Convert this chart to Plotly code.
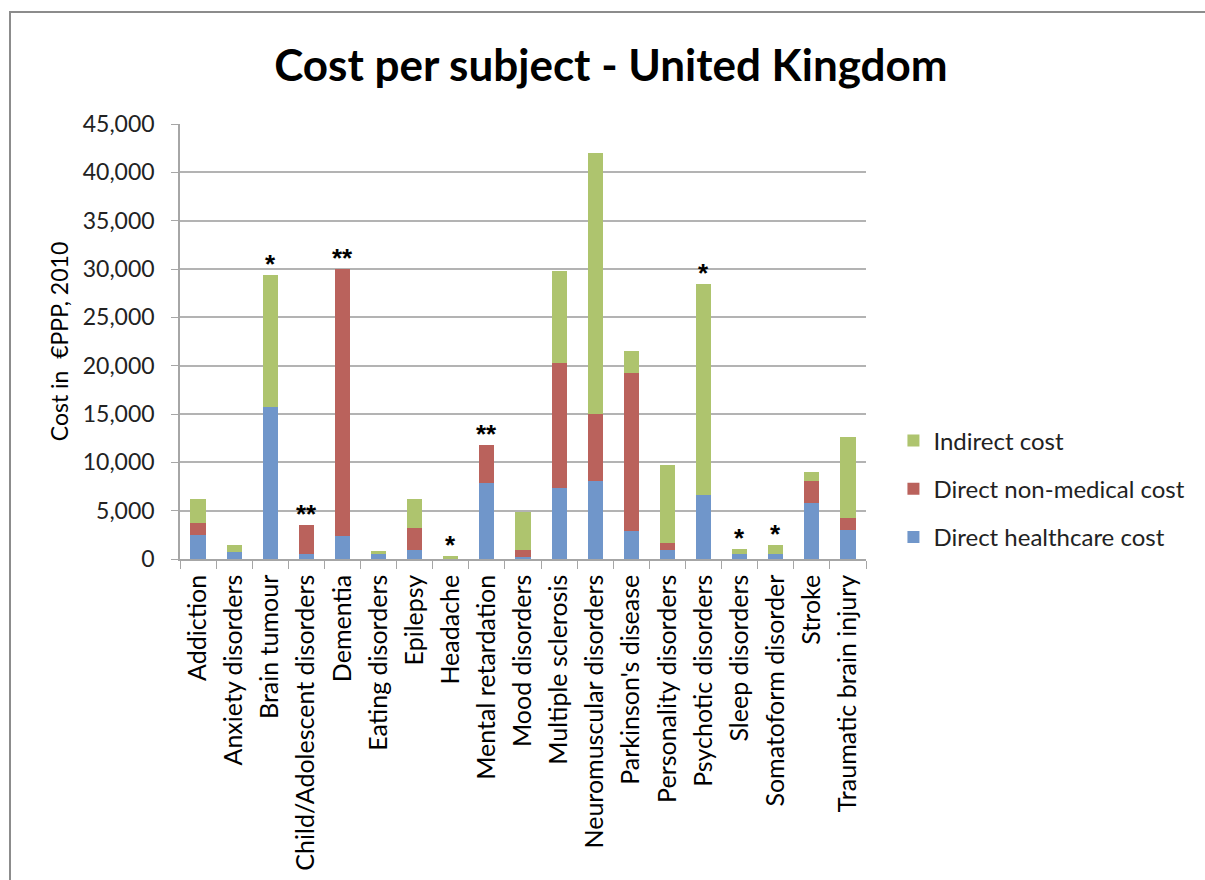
import plotly.graph_objects as go

categories = ["Addiction", "Anxiety disorders", "Brain tumour", "Child/Adolescent disorders",
              "Dementia", "Eating disorders", "Epilepsy", "Headache", "Mental retardation",
              "Mood disorders", "Multiple sclerosis", "Neuromuscular disorders",
              "Parkinson's disease", "Personality disorders", "Psychotic disorders",
              "Sleep disorders", "Somatoform disorder", "Stroke", "Traumatic brain injury"]

direct_healthcare = [2500, 750, 15700, 500, 2400, 500, 900, 0, 7850, 250, 7300, 8050,
                     2900, 900, 6600, 500, 500, 5800, 3000]
direct_nonmedical = [1200, 0, 0, 3000, 27600, 0, 2300, 0, 3950, 650, 13000, 6950,
                     16300, 800, 0, 0, 0, 2300, 1200]
indirect = [2500, 700, 13700, 0, 0, 300, 3000, 350, 0, 4000, 9500, 27000,
            2300, 8000, 21900, 500, 950, 900, 8400]
stars = ["", "", "*", "**", "**", "", "", "*", "**", "", "", "", "", "", "*", "*", "*", "", ""]

y_ticks = [0, 5000, 10000, 15000, 20000, 25000, 30000, 35000, 40000, 45000]

FONT = "Lato"
blue = "#7096CA"
red = "#BA625C"
green = "#AEC46E"

fig = go.Figure()
fig.add_trace(go.Bar(x=categories, y=direct_healthcare, name="Direct healthcare cost",
                     marker=dict(color=blue, line=dict(width=0)), legendrank=3, legendgroup="g3"))
fig.add_trace(go.Bar(x=categories, y=direct_nonmedical, name="Direct non-medical cost",
                     marker=dict(color=red, line=dict(width=0)), legendrank=2, legendgroup="g2"))
fig.add_trace(go.Bar(x=categories, y=indirect, name="Indirect cost",
                     marker=dict(color=green, line=dict(width=0)), legendrank=1, legendgroup="g1"))

totals = [a + b + c for a, b, c in zip(direct_healthcare, direct_nonmedical, indirect)]
for cat, tot, s in zip(categories, totals, stars):
    if s:
        fig.add_annotation(x=cat, y=tot, text="<b>" + s + "</b>", showarrow=False,
                           yanchor="bottom", yshift=-6,
                           font=dict(family="Liberation Sans", size=26, color="black"))

fig.update_layout(
    barmode="stack",
    bargap=0.58,
    width=1205, height=880,
    margin=dict(l=180, r=339, t=124, b=321),
    paper_bgcolor="white", plot_bgcolor="white",
    font=dict(family=FONT, size=22, color="#222222"),
    title=dict(text="<b>Cost per subject - United Kingdom</b>", x=0.507, xref="container",
               y=0.926, yref="container", xanchor="center", yanchor="middle",
               font=dict(family=FONT, size=44, color="black")),
    legend=dict(x=1.04, xanchor="left", y=0.161, yanchor="middle", traceorder="grouped",
                tracegroupgap=14, font=dict(family=FONT, size=24, color="#222222"),
                bgcolor="rgba(0,0,0,0)"),
    xaxis=dict(tickangle=-90, showgrid=False, showline=True, linecolor="#A6A6A6", linewidth=1.5,
               ticks="outside", tickson="boundaries", ticklen=8, tickcolor="#A6A6A6",
               ticklabelstandoff=4, automargin=False,
               tickfont=dict(family=FONT, size=25, color="black")),
    yaxis=dict(range=[0, 45000], tickvals=y_ticks, tickformat=",d", showgrid=True,
               gridcolor="#B3B3B3", gridwidth=1.5, showline=True, linecolor="#A6A6A6",
               linewidth=1.5, ticks="outside", ticklen=7, tickcolor="#A6A6A6",
               ticklabelstandoff=12, automargin=False,
               zeroline=False, tickfont=dict(family=FONT, size=23, color="#222222"),
               title=dict(text="Cost in  €PPP, 2010", standoff=8,
                          font=dict(family=FONT, size=23, color="black"))),
    shapes=[dict(type="rect", xref="paper", yref="paper",
                 x0=(10 - 180) / 686, x1=(1215 - 180) / 686,
                 y0=(559 - 900) / 435, y1=(559 - 12) / 435,
                 line=dict(color="#8C8C8C", width=2), fillcolor="rgba(0,0,0,0)", layer="below")],
)

fig.write_html("out.html")
